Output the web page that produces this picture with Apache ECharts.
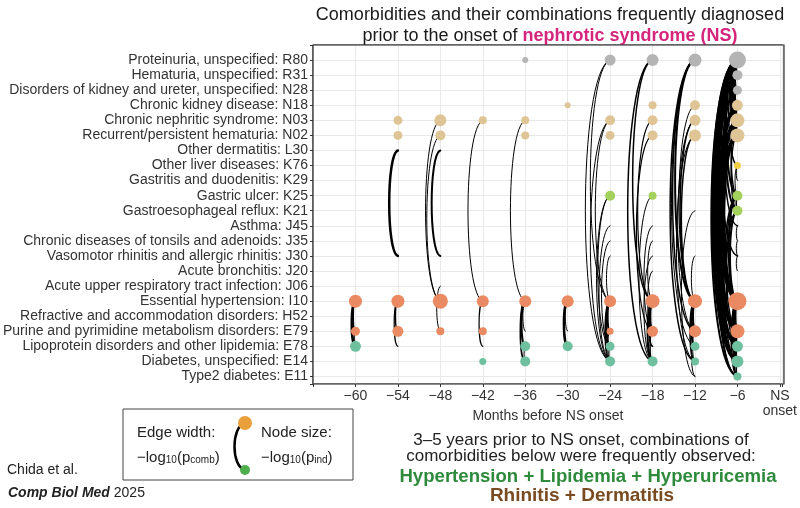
<!DOCTYPE html>
<html>
<head>
<meta charset="utf-8">
<title>Comorbidities before NS onset</title>
<script src="https://cdn.jsdelivr.net/npm/echarts@6/dist/echarts.min.js"></script>
<style>
html,body{margin:0;padding:0;background:#fff;}
#main{width:800px;height:508px;}
</style>
</head>
<body>
<div id="main"></div>
<script>
// rows, top to bottom
var rowCodes = ['R80','R31','N28','N18','N03','N02','L30','K76','K29','K25','K21',
	'J45','J35','J30','J20','J06','I10','H52','E79','E78','E14','E11'];
var rowNames = ['Proteinuria, unspecified','Hematuria, unspecified','Disorders of kidney and ureter, unspecified',
	'Chronic kidney disease','Chronic nephritic syndrome','Recurrent/persistent hematuria','Other dermatitis',
	'Other liver diseases','Gastritis and duodenitis','Gastric ulcer','Gastroesophageal reflux','Asthma',
	'Chronic diseases of tonsils and adenoids','Vasomotor rhinitis and allergic rhinitis','Acute bronchitis',
	'Acute upper respiratory tract infection','Essential hypertension','Refractive and accommodation disorders',
	'Purine and pyrimidine metabolism disorders','Lipoprotein disorders and other lipidemia','Diabetes, unspecified',
	'Type2 diabetes'];
var monthTicks = [-60,-54,-48,-42,-36,-30,-24,-18,-12,-6];

// nodes: [month, code, node size]
var nodes = [
	[-60,'I10',13],[-60,'E79',9],[-60,'E78',11],
	[-54,'N03',9],[-54,'N02',9],[-54,'I10',13],[-54,'E79',11],
	[-48,'N03',12],[-48,'N02',10],[-48,'I10',15],[-48,'E79',8],
	[-42,'N03',8],[-42,'I10',12],[-42,'E79',8],[-42,'E14',7],
	[-36,'R80',6],[-36,'N03',8],[-36,'N02',8],[-36,'I10',12],[-36,'E78',10],[-36,'E14',10],
	[-30,'N18',6],[-30,'I10',12],[-30,'E78',10],
	[-24,'R80',11],[-24,'N03',10],[-24,'N02',9],[-24,'K25',10],[-24,'I10',12],[-24,'E79',7],[-24,'E78',9],[-24,'E14',10],
	[-18,'R80',12],[-18,'N18',8],[-18,'N03',10],[-18,'N02',10],[-18,'K25',8],[-18,'I10',14],[-18,'E79',11],[-18,'E14',10],
	[-12,'R80',13],[-12,'N18',10],[-12,'N03',11],[-12,'N02',12],[-12,'I10',14],[-12,'E79',12],[-12,'E78',9],[-12,'E14',8],
	[-6,'R80',17],[-6,'R31',10],[-6,'N28',9],[-6,'N18',11],[-6,'N03',14],[-6,'N02',14],[-6,'K76',7],[-6,'K25',10],
	[-6,'K21',10],[-6,'I10',18],[-6,'E79',14],[-6,'E78',11],[-6,'E14',12],[-6,'E11',8]
];

// edges: [month, from, to, edge width]
var edges = [
	[-60,'I10','E79',2],[-60,'I10','E78',2.5],[-60,'E79','E78',1.2],
	[-54,'L30','J30',2.5],[-54,'I10','E79',1.5],[-54,'I10','E78',1.2],
	[-48,'N03','I10',1],[-48,'N02','I10',1],[-48,'L30','J30',2],[-48,'J06','E79',1],
	[-42,'N03','I10',1],[-42,'I10','E78',1.2],
	[-36,'N03','I10',1],[-36,'I10','E79',1],[-36,'I10','E78',2],[-36,'I10','E14',1.5],[-36,'E78','E14',1],
	[-30,'I10','E78',2.5],[-30,'I10','E79',1],
	[-24,'R80','E14',1],[-24,'R80','I10',1],[-24,'N03','I10',1],[-24,'N03','E14',1],[-24,'K25','E78',1],
	[-24,'K25','E14',1],[-24,'J45','E14',1],[-24,'J35','E78',1],[-24,'J30','I10',1],[-24,'I10','E79',2],
	[-24,'I10','E78',2],[-24,'I10','E14',1.5],[-24,'E79','E14',1],[-24,'E78','E14',1],
	[-18,'R80','I10',1.5],[-18,'R80','E14',1.5],[-18,'N03','I10',1.2],[-18,'N02','E79',1.2],[-18,'K25','E14',1],
	[-18,'J45','E79',1],[-18,'J35','I10',1],[-18,'J30','E14',1],[-18,'J20','E79',1],[-18,'I10','E79',2.5],
	[-18,'I10','E78',1.5],[-18,'I10','E14',2],[-18,'E79','E14',1.5],
	[-12,'R80','I10',2],[-12,'R80','E79',1.5],[-12,'R80','E78',1],[-12,'R80','E14',1.5],[-12,'N18','I10',1],
	[-12,'N03','I10',1.5],[-12,'N03','E79',1],[-12,'N02','I10',1.5],[-12,'N02','E14',1],[-12,'K21','E11',1],
	[-12,'J30','I10',1],[-12,'I10','E79',3],[-12,'I10','E78',2],[-12,'I10','E14',1.5],[-12,'E79','E14',1],
	[-12,'E79','E11',1],
	[-6,'R80','R31',2],[-6,'R80','N28',2],[-6,'R80','N18',2.5],[-6,'R80','N03',3],[-6,'R80','N02',3],
	[-6,'R80','K76',1.5],[-6,'R80','K25',2],[-6,'R80','K21',2],[-6,'R80','J45',1.5],[-6,'R80','J30',1.5],
	[-6,'R80','I10',3],[-6,'R80','E79',3],[-6,'R80','E78',2.5],[-6,'R80','E14',3],[-6,'R80','E11',2],
	[-6,'R31','N18',1.5],[-6,'R31','N02',1.5],[-6,'R31','I10',2],[-6,'R31','E79',1.5],[-6,'R31','E14',1.5],
	[-6,'N28','N03',1.5],[-6,'N28','I10',1.5],[-6,'N28','E14',1.5],
	[-6,'N18','N03',2],[-6,'N18','N02',2],[-6,'N18','I10',2.5],[-6,'N18','E79',2],[-6,'N18','E78',1.5],[-6,'N18','E14',2],
	[-6,'N03','N02',2.5],[-6,'N03','K25',1.5],[-6,'N03','I10',3],[-6,'N03','E79',2.5],[-6,'N03','E78',2],
	[-6,'N03','E14',2.5],[-6,'N03','E11',1.5],
	[-6,'N02','K21',1.5],[-6,'N02','I10',3],[-6,'N02','E79',2.5],[-6,'N02','E78',2],[-6,'N02','E14',2.5],[-6,'N02','E11',1.5],
	[-6,'K76','K29',1],[-6,'K76','K25',1],
	[-6,'K25','K21',1.5],[-6,'K25','I10',2],[-6,'K25','E79',1.5],[-6,'K25','E14',1.5],
	[-6,'K21','I10',2],[-6,'K21','E78',1.5],
	[-6,'J45','J35',1],[-6,'J35','J30',1],[-6,'J30','J20',1],
	[-6,'I10','E79',3],[-6,'I10','E78',2.5],[-6,'I10','E14',2.5],[-6,'I10','E11',1.5],
	[-6,'E79','E78',2],[-6,'E79','E14',2],[-6,'E79','E11',1.5],
	[-6,'E78','E14',1.5],[-6,'E14','E11',1.5]
];

var FONT = '"Liberation Sans", Arial, sans-serif';

// node colour by disease group
function nodeColor(code){
	if(code=='R80'||code=='R31'||code=='N28') return '#b4b4b4';
	if(code.charAt(0)=='N') return '#dfc596';
	if(code=='K76') return '#f3cf45';
	if(code.charAt(0)=='K') return '#a4d05c';
	if(code=='I10'||code=='E79') return '#e98a62';
	return '#6fc09f';
}

// edge drawn as a curve bulging to the left of the column
function renderArc(params, api){
	var p1 = api.coord([api.value(0), api.value(1)]);
	var p2 = api.coord([api.value(0), api.value(2)]);
	var len = p2[1]-p1[1];
	var d = Math.abs(len)*0.11;
	var a = len*0.03;
	return {
		type: 'bezierCurve',
		shape: {
			x1: p1[0], y1: p1[1], x2: p2[0], y2: p2[1],
			cpx1: p1[0]-d, cpy1: p1[1]+a, cpx2: p2[0]-d, cpy2: p2[1]-a
		},
		style: { stroke: '#000', fill: null, lineWidth: api.value(3), lineCap: 'round' }
	};
}

function initChart(){
	var edgeData=[];
	for(var i=0;i<edges.length;i++){
		edgeData.push([edges[i][0], rowCodes.indexOf(edges[i][1]), rowCodes.indexOf(edges[i][2]), edges[i][3]]);
	}
	var nodeData=[];
	for(var j=0;j<nodes.length;j++){
		nodeData.push({
			value:[nodes[j][0], rowCodes.indexOf(nodes[j][1]), nodes[j][2]],
			itemStyle:{color: nodeColor(nodes[j][1]), opacity: 1}
		});
	}

	var myChart = echarts.init(document.getElementById('main'), null, {renderer:'canvas'});
	var option = {
		animation: false,
		textStyle: { fontFamily: FONT },
		title: {
			text: 'Comorbidities and their combinations frequently diagnosed\nprior to the onset of {b|nephrotic syndrome (NS)}',
			left: 545, top: 0, textAlign: 'center',
			textStyle: {
				fontFamily: FONT, fontSize: 18, fontWeight: 'normal', color: '#1a1a1a', lineHeight: 21,
				rich: { b: { fontFamily: FONT, fontSize: 18, fontWeight: 'bold', color: '#d4247c', lineHeight: 21 } }
			}
		},
		grid: {
			left: 313, right: 16, top: 45, bottom: 124,
			show: true, borderColor: '#333', borderWidth: 1, backgroundColor: '#fff'
		},
		xAxis: {
			type: 'value', min: -66, max: 0.4, interval: 6,
			axisLine: { show: false, onZero: false },
			axisTick: { show: true, length: 3, lineStyle: { color: '#333' } },
			splitLine: { show: true, lineStyle: { color: '#e9e9e9', width: 1 } },
			axisLabel: {
				color: '#333', fontSize: 14, fontFamily: FONT, margin: 5, lineHeight: 15,
				formatter: function(v){
					if(v===0) return 'NS\nonset';
					if(monthTicks.indexOf(v)>=0) return '\u2212'+(-v);
					return '';
				}
			},
			name: 'Months before NS onset', nameLocation: 'middle', nameGap: 25, nameMoveOverlap: false,
			nameTextStyle: { color: '#333', fontSize: 14, fontFamily: FONT }
		},
		yAxis: {
			type: 'value', inverse: true, min: -1, max: 21.5, interval: 1,
			axisLine: { show: false, onZero: false },
			axisTick: { show: true, length: 3, lineStyle: { color: '#333' } },
			splitLine: { show: true, lineStyle: { color: '#e9e9e9', width: 1 } },
			axisLabel: {
				color: '#333', fontSize: 14, fontFamily: FONT, margin: 5,
				formatter: function(v){
					if(v>=0 && v<rowCodes.length && v===Math.round(v)) return rowNames[v]+': '+rowCodes[v];
					return '';
				}
			}
		},
		series: [
			{
				type: 'custom',
				renderItem: renderArc,
				data: edgeData,
				encode: { x: 0, y: [1,2] },
				z: 2,
				silent: true
			},
			{
				type: 'scatter',
				data: nodeData,
				symbolSize: function(v){ return v[2]; },
				z: 3,
				silent: true
			}
		],
		graphic: [
			// panel frame on top of the grid lines
			{ type: 'rect', z: 100, shape: { x: 313, y: 45, width: 471, height: 339 },
				style: { fill: null, stroke: '#333', lineWidth: 1.2 } },
			{ type: 'rect', shape: { x: 123, y: 409, width: 230, height: 71 },
				style: { fill: 'none', stroke: '#444', lineWidth: 1 } },
			{ type: 'bezierCurve', shape: { x1: 245, y1: 423, x2: 245, y2: 470, cpx1: 231, cpy1: 426, cpx2: 231, cpy2: 467 },
				style: { stroke: '#000', fill: null, lineWidth: 2.5 } },
			{ type: 'circle', shape: { cx: 245, cy: 423, r: 7 }, style: { fill: '#e9a03a' } },
			{ type: 'circle', shape: { cx: 245, cy: 470, r: 5 }, style: { fill: '#4cae4c' } },
			{ type: 'text', style: { text: 'Edge width:', x: 137, y: 433, font: '15px ' + FONT, fill: '#222', align: 'left', verticalAlign: 'middle' } },
			{ type: 'text', style: { text: '\u2212log{s|10}(p{s|comb})', x: 137, y: 458, font: '15px ' + FONT, fill: '#222', align: 'left', verticalAlign: 'middle',
				rich: { s: { fontSize: 10, fontFamily: FONT, verticalAlign: 'bottom', lineHeight: 12 } } } },
			{ type: 'text', style: { text: 'Node size:', x: 261, y: 433, font: '15px ' + FONT, fill: '#222', align: 'left', verticalAlign: 'middle' } },
			{ type: 'text', style: { text: '\u2212log{s|10}(p{s|ind})', x: 261, y: 458, font: '15px ' + FONT, fill: '#222', align: 'left', verticalAlign: 'middle',
				rich: { s: { fontSize: 10, fontFamily: FONT, verticalAlign: 'bottom', lineHeight: 12 } } } },
			{ type: 'text', style: { text: 'Chida et al.', x: 7, y: 470, font: '14px ' + FONT, fill: '#222', align: 'left', verticalAlign: 'middle' } },
			{ type: 'text', style: { text: '{bi|Comp Biol Med} 2025', x: 8, y: 493, font: '14px ' + FONT, fill: '#222', align: 'left', verticalAlign: 'middle',
				rich: { bi: { fontSize: 14, fontFamily: FONT, fontWeight: 'bold', fontStyle: 'italic' } } } },
			{ type: 'text', style: { text: '3\u20135 years prior to NS onset, combinations of', x: 581, y: 440, font: '17px ' + FONT, fill: '#222', align: 'center', verticalAlign: 'middle' } },
			{ type: 'text', style: { text: 'comorbidities below were frequently observed:', x: 581, y: 456, font: '17px ' + FONT, fill: '#222', align: 'center', verticalAlign: 'middle' } },
			{ type: 'text', style: { text: 'Hypertension + Lipidemia + Hyperuricemia', x: 588, y: 477, font: 'bold 18.6px ' + FONT, fill: '#2d8b3b', align: 'center', verticalAlign: 'middle' } },
			{ type: 'text', style: { text: 'Rhinitis + Dermatitis', x: 582, y: 496, font: 'bold 19px ' + FONT, fill: '#7a4b21', align: 'center', verticalAlign: 'middle' } }
		]
	};
	myChart.setOption(option);
}

initChart();
</script>
</body>
</html>
